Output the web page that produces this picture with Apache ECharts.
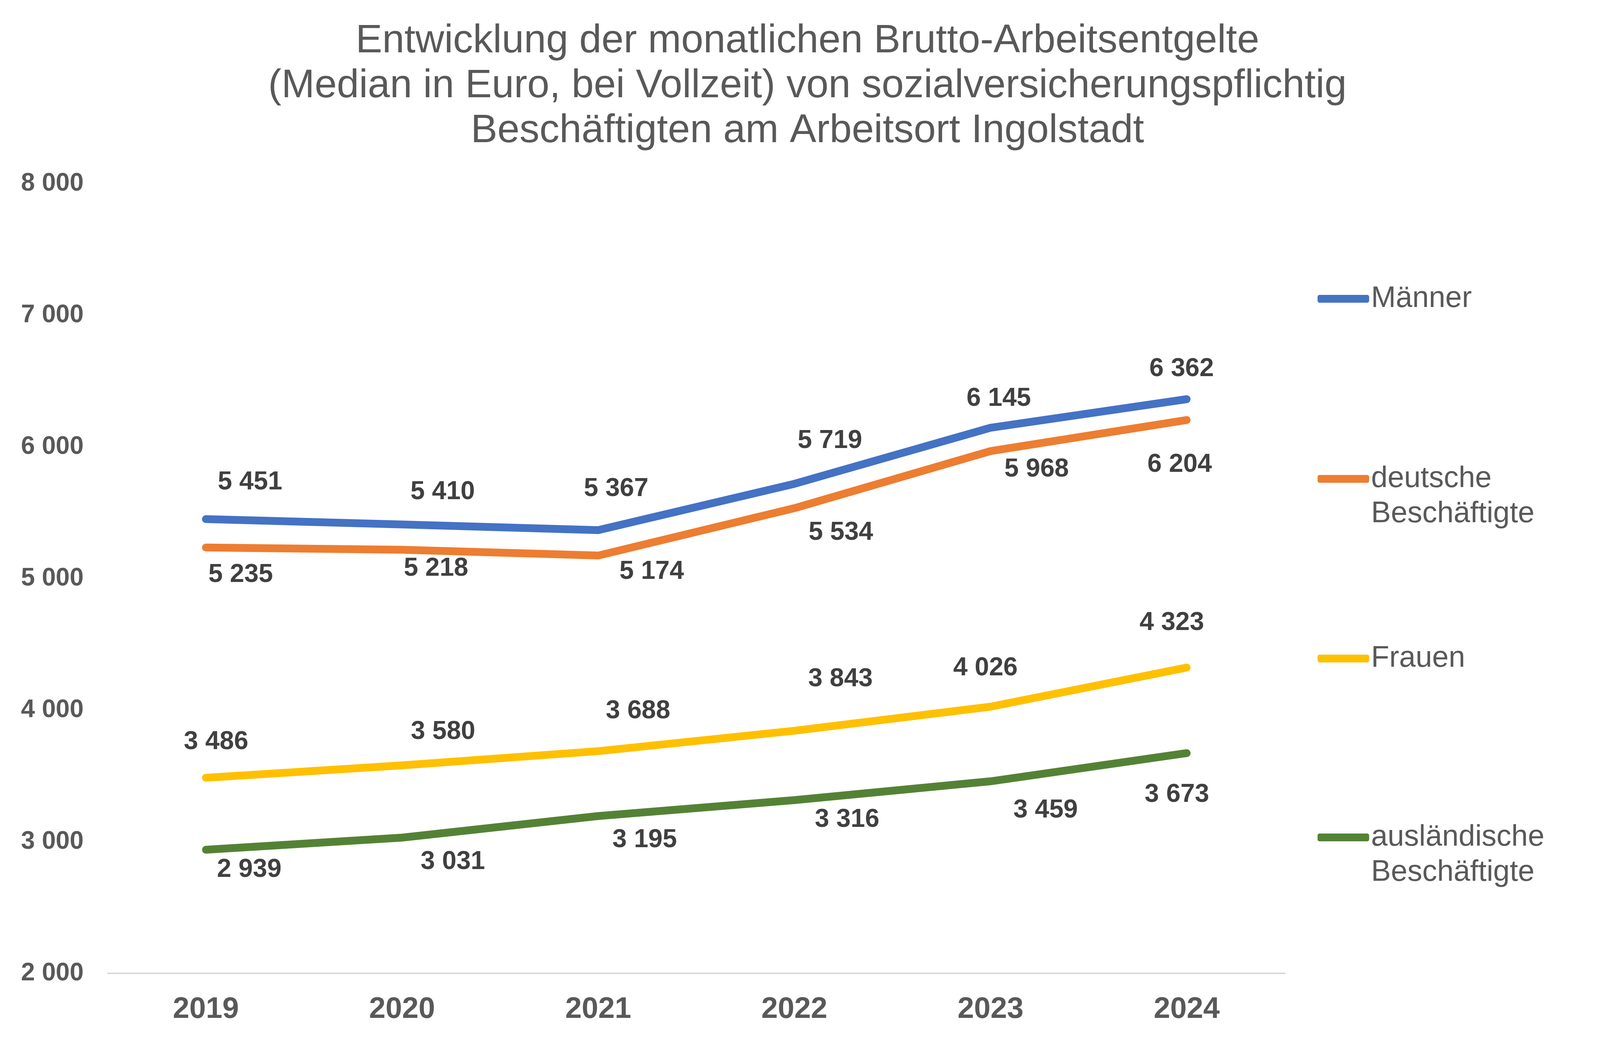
<!DOCTYPE html>
<html>
<head>
<meta charset="utf-8">
<script src="https://cdn.jsdelivr.net/npm/echarts@6/dist/echarts.min.js"></script>
<style>
  html, body { margin: 0; padding: 0; background: #fff; }
  #chart { width: 4134px; height: 2678px; }
</style>
</head>
<body>
<div id="chart"></div>
<script>
// Werte (Median in Euro)
var years = ['2019', '2020', '2021', '2022', '2023', '2024'];
var maenner = [5451, 5410, 5367, 5719, 6145, 6362];
var deutsche = [5235, 5218, 5174, 5534, 5968, 6204];
var frauen = [3486, 3580, 3688, 3843, 4026, 4323];
var auslaender = [2939, 3031, 3195, 3316, 3459, 3673];

// Verschiebung der Datenbeschriftungen (px), wie im Original
var shiftMaenner = [[113, -94], [104, -83], [46, -106], [91, -110], [21, -74], [-13, -77]];
var shiftDeutsche = [[89, 70], [87, 48], [137, 41], [119, 63], [118, 47], [-18, 115]];
var shiftFrauen = [[26, -91], [105, -86], [102, -102], [118, -132], [-13, -98], [-38, -114]];
var shiftAuslaender = [[111, 51], [130, 62], [119, 62], [135, 50], [141, 74], [-25, 107]];

var FONT = "'Liberation Sans', Arial, sans-serif";

function fmt(v) {
	return String(v).replace(/\B(?=(\d{3})+(?!\d))/g, ' ');
}

function withLabels(values, shifts) {
	return values.map(function (v, i) {
		return { value: v, label: { offset: shifts[i] } };
	});
}

function lineSeries(name, color, values, shifts) {
	return {
		name: name,
		type: 'line',
		data: withLabels(values, shifts),
		symbol: 'circle',
		symbolSize: 2,
		itemStyle: { color: color },
		lineStyle: { color: color, width: 20, cap: 'round', join: 'round' },
		label: {
			show: true,
			position: 'inside',
			align: 'center',
			verticalAlign: 'middle',
			formatter: function (p) { return fmt(p.value); },
			fontFamily: FONT,
			fontSize: 66,
			fontWeight: 'bold',
			color: '#404040'
		},
		emphasis: { disabled: true }
	};
}

// eine Legende pro Eintrag; zweizeilige Einträge bekommen eine leere
// erste Zeile, damit die Linie neben der ersten Textzeile steht
function legendItem(name, top, twoLines) {
	return {
		data: [name],
		left: 3373,
		top: top,
		padding: 0,
		selectedMode: false,
		icon: 'roundRect',
		itemWidth: 132,
		itemHeight: 20,
		formatter: function (n) {
			return twoLines ? '\n' + n.replace(' ', '\n') : n;
		},
		textStyle: {
			fontFamily: FONT,
			fontSize: 76,
			lineHeight: 90,
			color: '#595959'
		}
	};
}

var myChart = echarts.init(document.getElementById('chart'));

var option = {
	backgroundColor: '#ffffff',
	animation: false,
	title: {
		text: 'Entwicklung der monatlichen Brutto-Arbeitsentgelte\n(Median in Euro, bei Vollzeit) von sozialversicherungspflichtig\nBeschäftigten am Arbeitsort Ingolstadt',
		left: 'center',
		top: 48,
		padding: 0,
		textStyle: {
			fontFamily: FONT,
			fontSize: 102,
			lineHeight: 115,
			fontWeight: 'normal',
			color: '#595959'
		}
	},
	legend: [
		legendItem('Männer', 720, false),
		legendItem('deutsche Beschäftigte', 1091, true),
		legendItem('Frauen', 1641, false),
		legendItem('ausländische Beschäftigte', 2009, true)
	],
	grid: {
		left: 276,
		right: 845,
		top: 470,
		bottom: 186
	},
	xAxis: {
		type: 'category',
		data: years,
		boundaryGap: true,
		axisLine: { lineStyle: { color: '#d9d9d9', width: 4 } },
		axisTick: { show: false },
		axisLabel: {
			margin: 55,
			fontFamily: FONT,
			fontSize: 76,
			fontWeight: 'bold',
			color: '#595959'
		},
		splitLine: { show: false }
	},
	yAxis: {
		type: 'value',
		min: 2000,
		max: 8000,
		interval: 1000,
		axisLine: { show: false },
		axisTick: { show: false },
		splitLine: { show: false },
		axisLabel: {
			margin: 62,
			fontFamily: FONT,
			fontSize: 64,
			fontWeight: 'bold',
			color: '#595959',
			formatter: fmt
		}
	},
	series: [
		lineSeries('Männer', '#4472C4', maenner, shiftMaenner),
		lineSeries('deutsche Beschäftigte', '#ED7D31', deutsche, shiftDeutsche),
		lineSeries('Frauen', '#FFC000', frauen, shiftFrauen),
		lineSeries('ausländische Beschäftigte', '#548235', auslaender, shiftAuslaender)
	]
};

myChart.setOption(option);
</script>
</body>
</html>
